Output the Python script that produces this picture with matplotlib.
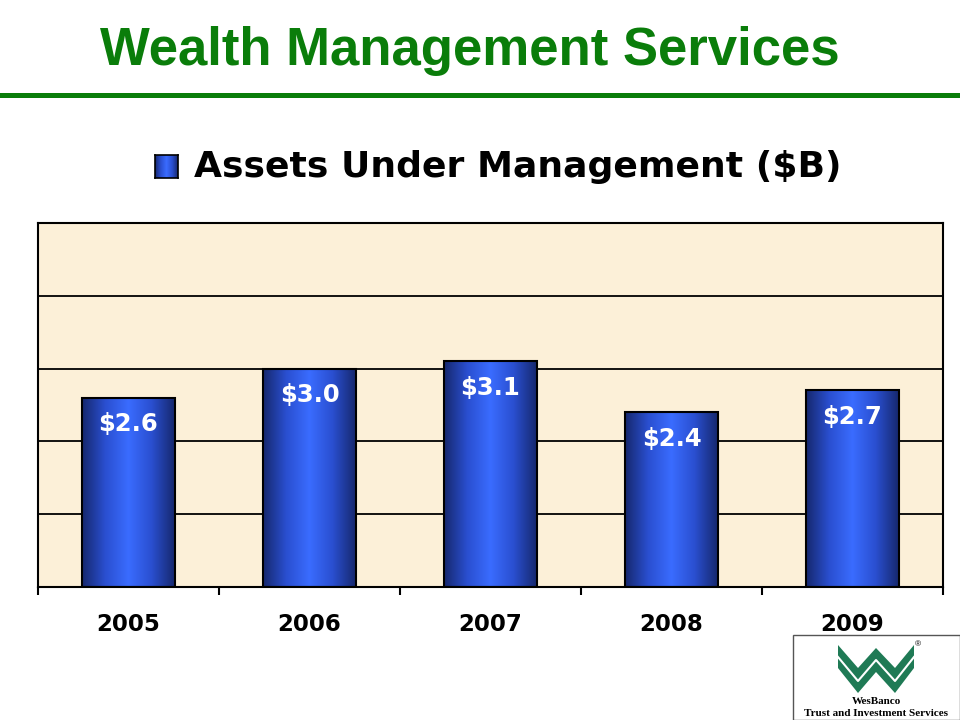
import numpy as np
import matplotlib
matplotlib.use("Agg")
import matplotlib.pyplot as plt
from matplotlib.colors import LinearSegmentedColormap
from matplotlib.patches import Rectangle, Polygon

years = ["2005", "2006", "2007", "2008", "2009"]
aum = [2.6, 3.0, 3.1, 2.4, 2.7]
labels = ["$2.6", "$3.0", "$3.1", "$2.4", "$2.7"]

plt.rcParams['font.family'] = ['Liberation Sans', 'DejaVu Sans']
heavy = ['DejaVu Sans']

W, H = 960, 720
fig = plt.figure(figsize=(9.6, 7.2), dpi=100)

def fx(px):
    return px / W

def fy(py):
    return 1 - py / H

# title + green rule
fig.text(fx(470), fy(65), "Wealth Management Services", ha='center', va='baseline',
         fontsize=38, fontweight='bold', color='#0a7d0a')
fig.add_artist(Rectangle((0, fy(98)), 1, 5 / H, transform=fig.transFigure,
                         facecolor='#0a7d0a', edgecolor='none'))

blue_cmap = LinearSegmentedColormap.from_list(
    "bar", ["#16286e", "#2a4fd0", "#3a6cff", "#2a4fd0", "#16286e"])
grad = np.linspace(0, 1, 256).reshape(1, -1)

# legend
lax = fig.add_axes([fx(155), fy(178), 23 / W, 23 / H])
lax.imshow(grad, cmap=blue_cmap, aspect='auto')
lax.set_xticks([])
lax.set_yticks([])
for s in lax.spines.values():
    s.set_linewidth(1.2)
fig.text(fx(194), fy(177), "Assets Under Management ($B)", ha='left', va='baseline',
         fontsize=26, fontweight='bold', color='black', family=heavy)

# chart
ax = fig.add_axes([fx(38), fy(587), (943 - 38) / W, (587 - 223) / H])
ax.set_facecolor('#fcf0d8')
for yv in [1, 2, 3, 4]:
    ax.axhline(yv, color='black', lw=1.3, zorder=1)

bw = 0.51
for i, (v, lab) in enumerate(zip(aum, labels)):
    x0 = i + 0.5 - bw / 2
    ax.imshow(grad, cmap=blue_cmap, aspect='auto', extent=[x0, x0 + bw, 0, v],
              zorder=2, interpolation='bilinear')
    ax.add_patch(Rectangle((x0, 0), bw, v, facecolor='none', edgecolor='black',
                           lw=1.5, zorder=3))
    ax.annotate(lab, (i + 0.5, v), xytext=(0, -19), textcoords='offset points',
                ha='center', va='center', color='white', fontsize=17.5,
                fontweight='bold', family=heavy, zorder=4)
ax.set_xlim(0, len(years))
ax.set_ylim(0, 5)

ax.set_yticks([])
ax.set_xticks(np.arange(len(years) + 1))
ax.set_xticklabels([])
ax.set_xticks(np.arange(len(years)) + 0.5, minor=True)
ax.set_xticklabels(years, minor=True, fontsize=16.5, fontweight='bold', family=heavy)
ax.tick_params(axis='x', which='major', length=6, width=1.5, direction='out')
ax.tick_params(axis='x', which='minor', length=0, pad=19)
for s in ax.spines.values():
    s.set_linewidth(1.5)

# logo
fig.add_artist(Rectangle((fx(793), fy(720)), (960 - 793) / W, (720 - 635) / H,
                         transform=fig.transFigure, facecolor='white',
                         edgecolor='#555555', lw=1))
top = [(838, 645), (858, 668), (876, 648), (895, 668), (914, 645)]
bot = [(914, 668), (895, 693), (876, 672), (858, 693), (838, 668)]
fig.add_artist(Polygon([(fx(a), fy(b)) for a, b in top + bot],
                       transform=fig.transFigure, facecolor='#1f7a55',
                       edgecolor='none'))
mid = [(838, 657), (858, 681), (876, 660), (895, 681), (914, 657)]
fig.add_artist(plt.Line2D([fx(a) for a, b in mid], [fy(b) for a, b in mid],
                          transform=fig.transFigure, color='white', lw=1.5))
fig.text(fx(918), fy(645), "®", fontsize=6, ha='center', va='center')
fig.text(fx(876), fy(702), "WesBanco", ha='center', va='center', fontsize=8,
         fontweight='bold', family=['Liberation Serif', 'DejaVu Serif'])
fig.text(fx(876), fy(713), "Trust and Investment Services", ha='center', va='center',
         fontsize=8, fontweight='bold', family=['Liberation Serif', 'DejaVu Serif'])

fig.savefig("out.png", dpi=100)
